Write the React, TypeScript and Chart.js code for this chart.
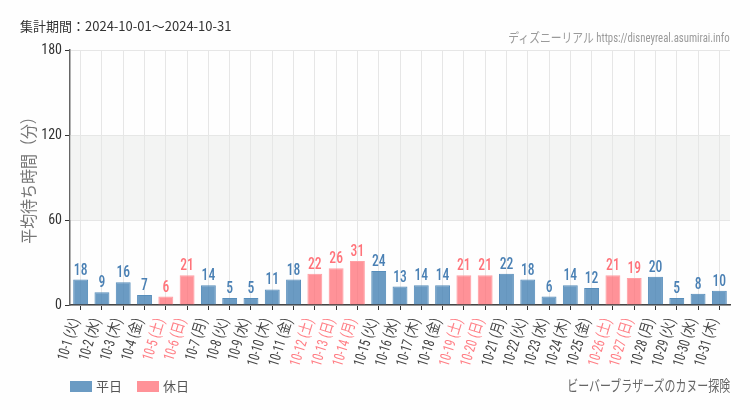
import React, { useEffect, useRef } from "react";
import { Chart, registerables } from "chart.js";

Chart.register(...registerables);

const categories = [
  "10-1 (火)", "10-2 (水)", "10-3 (木)", "10-4 (金)", "10-5 (土)", "10-6 (日)", "10-7 (月)",
  "10-8 (火)", "10-9 (水)", "10-10 (木)", "10-11 (金)", "10-12 (土)", "10-13 (日)", "10-14 (月)",
  "10-15 (火)", "10-16 (水)", "10-17 (木)", "10-18 (金)", "10-19 (土)", "10-20 (日)", "10-21 (月)",
  "10-22 (火)", "10-23 (水)", "10-24 (木)", "10-25 (金)", "10-26 (土)", "10-27 (日)", "10-28 (月)",
  "10-29 (火)", "10-30 (水)", "10-31 (木)",
];

const weekdayValues: (number | null)[] = [
  18, 9, 16, 7, null, null, 14,
  5, 5, 11, 18, null, null, null,
  24, 13, 14, 14, null, null, 22,
  18, 6, 14, 12, null, null, 20,
  5, 8, 10,
];

const holidayValues: (number | null)[] = [
  null, null, null, null, 6, 21, null,
  null, null, null, null, 22, 26, 31,
  null, null, null, null, 21, 21, null,
  null, null, null, null, 21, 19, null,
  null, null, null,
];

const yTicks = [0, 60, 120, 180];
const yTitle = "平均待ち時間（分）";

const COND = "'Roboto Condensed', 'Noto Sans CJK JP', sans-serif";
const JP = "'Noto Sans CJK JP', 'Noto Sans', sans-serif";

const BLUE_BAR = "rgba(70,130,180,0.8)";
const BLUE_TEXT = "#4a80b4";
const PINK_BAR = "rgba(255,110,118,0.75)";
const PINK_TEXT = "#ff737a";
const PINK_TICK = "#ff7e85";

export default function App() {
  const ref = useRef<HTMLCanvasElement | null>(null);

  useEffect(() => {
    document.body.style.margin = "0";
    const canvas = ref.current;
    if (!canvas) return;

    const bandPlugin = {
      id: "band",
      beforeDatasetsDraw(chart: any) {
        const { ctx, chartArea, scales } = chart;
        const y = scales.y;
        const top = y.getPixelForValue(120);
        const bot = y.getPixelForValue(60);
        ctx.save();
        ctx.fillStyle = "rgba(230,232,230,0.45)";
        ctx.fillRect(chartArea.left, top, chartArea.right - chartArea.left, bot - top);
        ctx.restore();
      },
    };

    const xLabelPlugin = {
      id: "xLabels",
      afterDraw(chart: any) {
        const { ctx, chartArea, scales } = chart;
        const xs = scales.x;
        const labels: string[] = chart.data.labels;
        labels.forEach((lab, i) => {
          const x = xs.getPixelForTick(i);
          ctx.save();
          ctx.font = `15px ${COND}`;
          ctx.fillStyle = holidayValues[i] !== null ? PINK_TICK : "#444";
          ctx.textAlign = "right";
          ctx.textBaseline = "middle";
          ctx.translate(x - 5, chartArea.bottom + 14);
          ctx.rotate((-73 * Math.PI) / 180);
          ctx.scale(0.8, 1);
          ctx.fillText(lab, 0, 0);
          ctx.restore();
        });
      },
    };

    const yTitlePlugin = {
      id: "yTitle",
      afterDraw(chart: any) {
        const { ctx, chartArea } = chart;
        ctx.save();
        ctx.font = `17px ${JP}`;
        ctx.fillStyle = "#777";
        ctx.textAlign = "center";
        ctx.textBaseline = "middle";
        ctx.translate(29, (chartArea.top + chartArea.bottom) / 2 - 1);
        ctx.rotate(-Math.PI / 2);
        ctx.scale(0.88, 1);
        ctx.fillText(yTitle, 0, 0);
        ctx.restore();
      },
    };

    const labelPlugin = {
      id: "valueLabels",
      afterDatasetsDraw(chart: any) {
        const { ctx } = chart;
        chart.data.datasets.forEach((ds: any, di: number) => {
          const meta = chart.getDatasetMeta(di);
          meta.data.forEach((bar: any, i: number) => {
            const v = ds.data[i];
            if (v === null || v === undefined) return;
            ctx.save();
            ctx.font = `500 16px ${COND}`;
            ctx.textAlign = "center";
            ctx.textBaseline = "bottom";
            ctx.fillStyle = di === 0 ? BLUE_TEXT : PINK_TEXT;
            ctx.translate(bar.x, bar.y - 1);
            ctx.scale(0.85, 1);
            ctx.fillText(String(v), 0, 0);
            ctx.restore();
          });
        });
      },
    };

    const chart = new Chart(canvas, {
      type: "bar",
      data: {
        labels: categories,
        datasets: [
          {
            label: "平日",
            data: weekdayValues,
            backgroundColor: BLUE_BAR,
            borderColor: "rgba(70,130,180,0.9)",
            borderWidth: 1,
            barPercentage: 0.7,
            categoryPercentage: 1,
            grouped: false,
          },
          {
            label: "休日",
            data: holidayValues,
            backgroundColor: PINK_BAR,
            borderColor: "rgba(255,150,155,0.9)",
            borderWidth: 1,
            barPercentage: 0.7,
            categoryPercentage: 1,
            grouped: false,
          },
        ],
      },
      options: {
        responsive: false,
        animation: false,
        devicePixelRatio: 1,
        layout: { padding: { top: 50, left: 0, right: 20, bottom: 5 } },
        plugins: {
          legend: { display: false },
          tooltip: { enabled: false },
          title: { display: false },
        },
        scales: {
          x: {
            grid: {
              offset: false,
              color: "#e6e6e6",
              tickColor: "#333",
              tickLength: 5,
              drawTicks: true,
            },
            border: { color: "#444", width: 1.5 },
            ticks: {
              autoSkip: false,
              display: false,
            },
            afterFit(scale: any) {
              scale.height = 100;
            },
          },
          y: {
            min: 0,
            max: 180,
            afterBuildTicks(scale: any) {
              scale.ticks = yTicks.map((v) => ({ value: v }));
            },
            grid: {
              color: "#e6e6e6",
              tickColor: "#333",
              tickLength: 5,
            },
            border: { color: "#666", width: 1.5 },
            ticks: {
              padding: 3,
              font: { family: COND, size: 14 },
              color: "#333",
            },
            afterFit(scale: any) {
              scale.width = 70;
            },
          },
        },
      },
      plugins: [bandPlugin, labelPlugin, yTitlePlugin, xLabelPlugin],
    });

    return () => chart.destroy();
  }, []);

  const abs = (s: React.CSSProperties): React.CSSProperties => ({ position: "absolute", whiteSpace: "nowrap", ...s });

  return (
    <div style={{ position: "relative", width: 750, height: 410, background: "#fefefe", overflow: "hidden" }}>
      <canvas ref={ref} width={750} height={410} style={{ position: "absolute", left: 0, top: 0 }} />
      <div style={abs({ left: 20, top: 17, fontFamily: JP, fontSize: 13, color: "#333", lineHeight: "18px" })}>
        集計期間：2024-10-01～2024-10-31
      </div>
      <div style={abs({ right: 20, top: 30, fontFamily: COND, fontSize: 13, color: "#9a9a9a", lineHeight: "16px", transform: "scaleX(0.83)", transformOrigin: "right center" })}>
        ディズニーリアル https://disneyreal.asumirai.info
      </div>
      <div style={abs({ left: 70, top: 377, fontFamily: JP, fontSize: 13, color: "#555", lineHeight: "18px", display: "flex", alignItems: "center" })}>
        <span style={{ display: "inline-block", width: 22, height: 11, background: BLUE_BAR, marginRight: 4 }} />
        <span>平日</span>
        <span style={{ display: "inline-block", width: 22, height: 11, background: PINK_BAR, marginLeft: 15, marginRight: 4 }} />
        <span>休日</span>
      </div>
      <div style={abs({ right: 20, top: 375, fontFamily: JP, fontSize: 15, color: "#666", lineHeight: "20px", transform: "scaleX(0.73)", transformOrigin: "right center" })}>
        ビーバーブラザーズのカヌー探険
      </div>
    </div>
  );
}
